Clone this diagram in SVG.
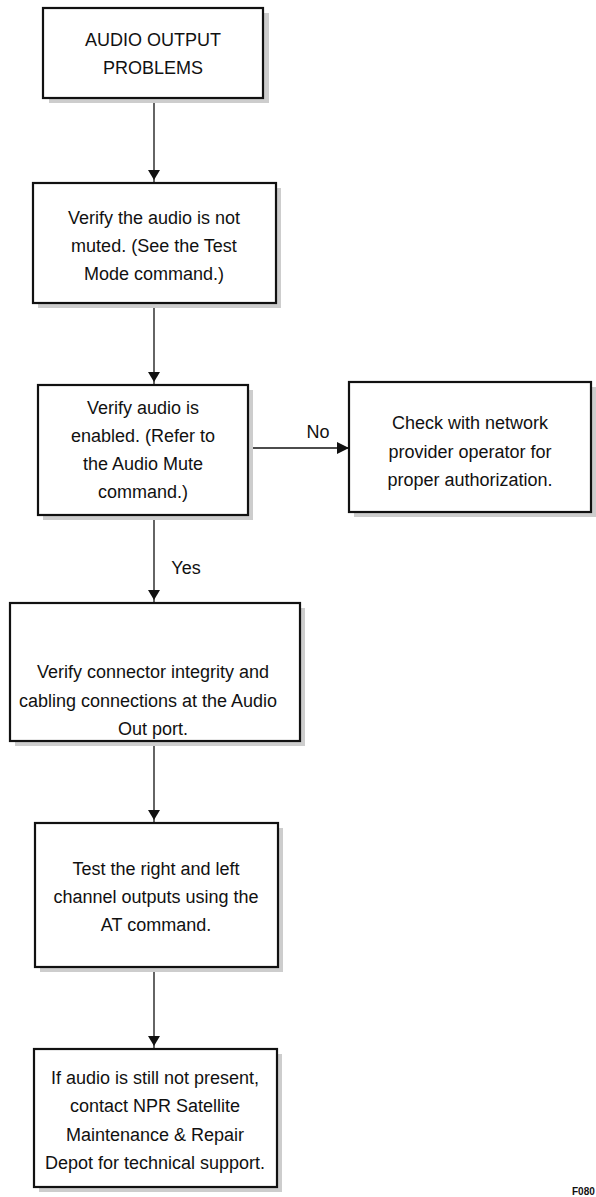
<svg xmlns="http://www.w3.org/2000/svg" width="596" height="1197" viewBox="0 0 596 1197">
  <style>
    .box { fill: #ffffff; stroke: #111111; stroke-width: 2.2; }
    .shadow { fill: #cdcdcd; }
    .lbl { font-family: "Liberation Sans", Arial, sans-serif; font-size: 18px; fill: #111111; text-anchor: middle; }
    .wire { stroke: #111111; stroke-width: 1.3; fill: none; }
  </style>
  <defs>
    <!-- down arrow head that stops a few pixels short of the box top -->
    <marker id="arrow" viewBox="0 0 14 12" refX="13" refY="6" markerWidth="14" markerHeight="12" markerUnits="userSpaceOnUse" orient="auto" overflow="visible">
      <path d="M0,0 L10,6 L0,12 Z" fill="#111111"/>
    </marker>
    <marker id="arrowBig" viewBox="0 0 12 12" refX="12" refY="6" markerWidth="12" markerHeight="12" markerUnits="userSpaceOnUse" orient="auto">
      <path d="M0,0 L12,6 L0,12 Z" fill="#111111"/>
    </marker>
  </defs>
  <rect width="596" height="1197" fill="#ffffff"/>

  <g id="connectors">
    <line class="wire" x1="154" y1="98" x2="154" y2="183" marker-end="url(#arrow)"/>
    <line class="wire" x1="154" y1="303" x2="154" y2="385" marker-end="url(#arrow)"/>
    <line class="wire" x1="248" y1="448" x2="349" y2="448" marker-end="url(#arrowBig)"/>
    <text class="lbl" x="318" y="438">No</text>
    <line class="wire" x1="154" y1="515" x2="154" y2="603" marker-end="url(#arrow)"/>
    <text class="lbl" x="186" y="574">Yes</text>
    <line class="wire" x1="154" y1="741" x2="154" y2="823" marker-end="url(#arrow)"/>
    <line class="wire" x1="154" y1="967" x2="154" y2="1049" marker-end="url(#arrow)"/>
  </g>

  <g id="start">
    <rect class="shadow" x="49" y="13" width="220" height="90"/>
    <rect class="box" x="43" y="8" width="220" height="90"/>
    <text class="lbl" x="153" y="46">AUDIO OUTPUT</text>
    <text class="lbl" x="153" y="74">PROBLEMS</text>
  </g>

  <g id="check-mute">
    <rect class="shadow" x="38" y="188" width="243" height="120"/>
    <rect class="box" x="33" y="183" width="243" height="120"/>
    <text class="lbl" x="154" y="224">Verify the audio is not</text>
    <text class="lbl" x="154" y="252">muted. (See the Test</text>
    <text class="lbl" x="154" y="280">Mode command.)</text>
  </g>

  <g id="check-enabled">
    <rect class="shadow" x="43" y="390" width="210" height="130"/>
    <rect class="box" x="38" y="385" width="210" height="130"/>
    <text class="lbl" x="143" y="414">Verify audio is</text>
    <text class="lbl" x="143" y="442">enabled. (Refer to</text>
    <text class="lbl" x="143" y="470">the Audio Mute</text>
    <text class="lbl" x="143" y="498">command.)</text>
  </g>

  <g id="authorization">
    <rect class="shadow" x="354" y="387" width="242" height="130"/>
    <rect class="box" x="349" y="382" width="242" height="130"/>
    <text class="lbl" x="470" y="429">Check with network</text>
    <text class="lbl" x="470" y="458">provider operator for</text>
    <text class="lbl" x="470" y="486">proper authorization.</text>
  </g>

  <g id="check-cabling">
    <rect class="shadow" x="15" y="608" width="290" height="138"/>
    <rect class="box" x="10" y="603" width="290" height="138"/>
    <text class="lbl" x="153" y="678">Verify connector integrity and</text>
    <text class="lbl" x="148" y="707">cabling connections at the Audio</text>
    <text class="lbl" x="153" y="735">Out port.</text>
  </g>

  <g id="test-channels">
    <rect class="shadow" x="40" y="828" width="243" height="144"/>
    <rect class="box" x="35" y="823" width="243" height="144"/>
    <text class="lbl" x="156" y="875">Test the right and left</text>
    <text class="lbl" x="156" y="903">channel outputs using the</text>
    <text class="lbl" x="156" y="931">AT command.</text>
  </g>

  <g id="contact-depot">
    <rect class="shadow" x="39" y="1054" width="243" height="138"/>
    <rect class="box" x="34" y="1049" width="243" height="138"/>
    <text class="lbl" x="155" y="1084">If audio is still not present,</text>
    <text class="lbl" x="155" y="1112">contact NPR Satellite</text>
    <text class="lbl" x="155" y="1141">Maintenance &amp; Repair</text>
    <text class="lbl" x="155" y="1169">Depot for technical support.</text>
  </g>

  <text x="572" y="1195" font-family="Liberation Sans, Arial, sans-serif" font-size="10" font-weight="bold" fill="#111111">F080</text>
</svg>
